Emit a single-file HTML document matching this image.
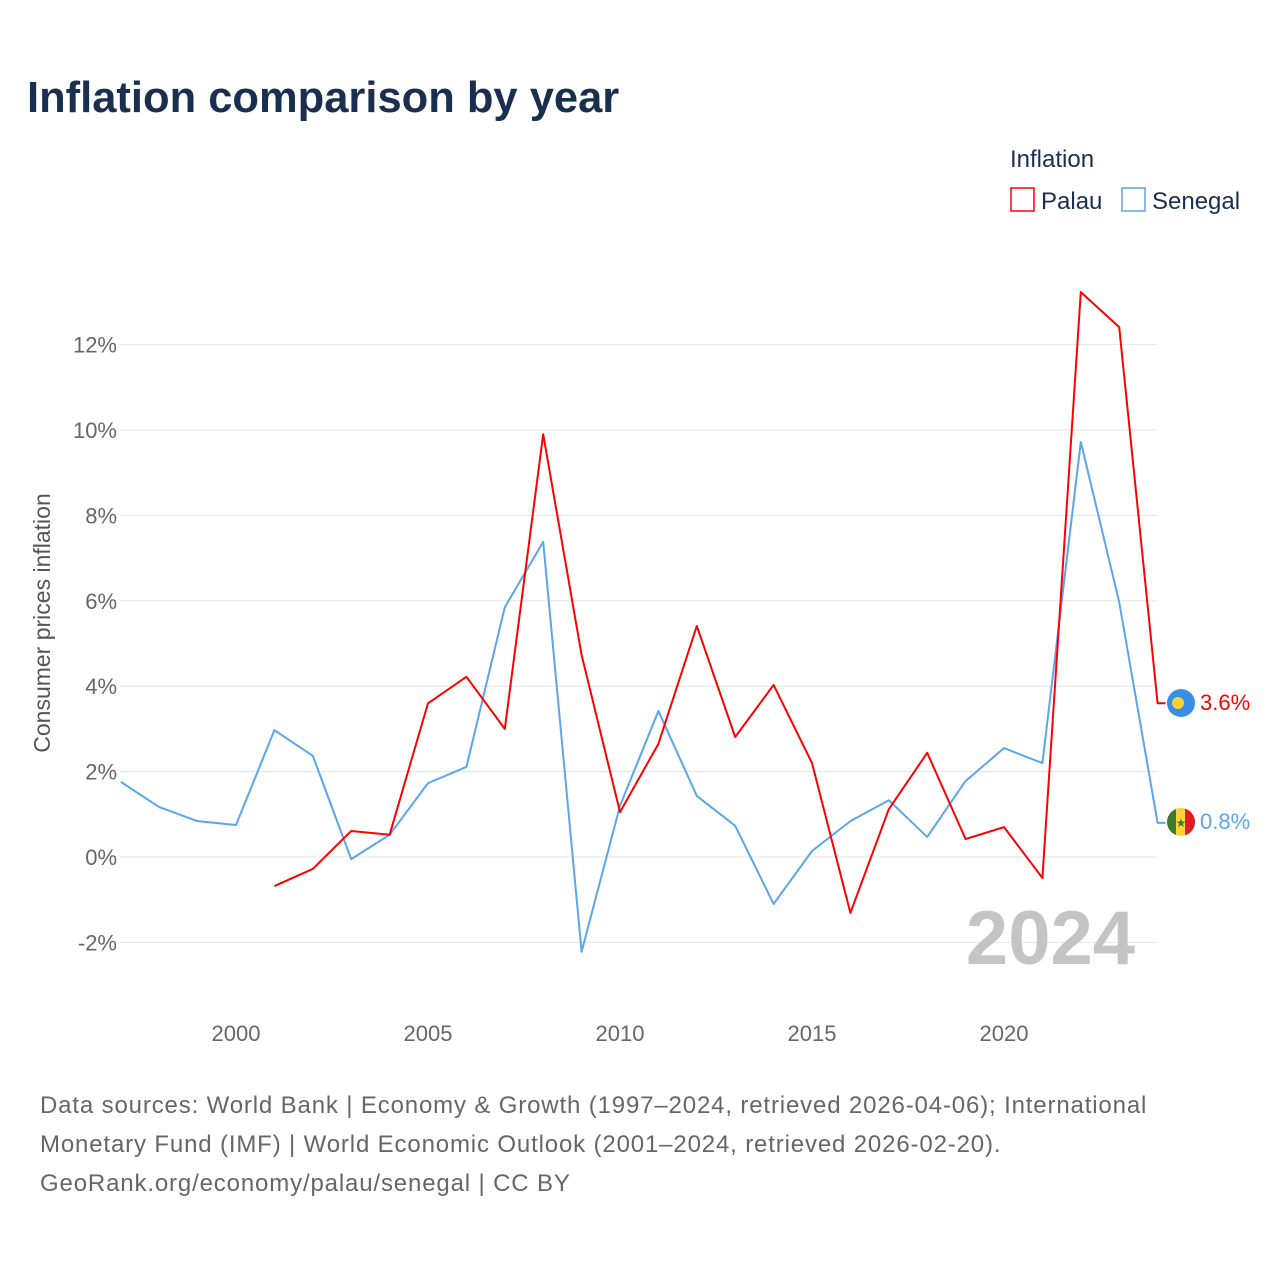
<!DOCTYPE html>
<html><head><meta charset="utf-8"><style>
body{margin:0;background:#fff;font-family:"Liberation Sans",sans-serif;}
</style></head><body>
<svg width="1280" height="1280" viewBox="0 0 1280 1280">
<text x="27" y="112" font-size="43.5" font-weight="bold" fill="#1a2e50">Inflation comparison by year</text>
<text x="1010" y="167" font-size="24" fill="#1a2e50">Inflation</text>
<g><rect x="1011" y="188" width="23" height="23" fill="none" stroke="#f00" stroke-width="1.5"/><text x="1041" y="209" font-size="24" fill="#1a2e50">Palau</text></g>
<g><rect x="1122" y="188" width="23" height="23" fill="none" stroke="#5ba6ea" stroke-width="1.5"/><text x="1152" y="209" font-size="24" fill="#1a2e50">Senegal</text></g>
<g id="grid"></g><g id="yt"></g><g id="xt"></g>
<text transform="translate(50,623) rotate(-90)" text-anchor="middle" font-size="23" fill="#555">Consumer prices inflation</text>
<text x="1135" y="964" text-anchor="end" font-size="76" font-weight="bold" fill="#c4c4c4">2024</text>
<g id="lines"></g>
<g><circle cx="1181" cy="703" r="14" fill="#3a8ee6"/><circle cx="1178" cy="703" r="6" fill="#f7d234"/></g>
<text x="1200" y="710" font-size="22" fill="#f00">3.6%</text>
<g><clipPath id="c"><circle cx="1181" cy="822" r="14"/></clipPath><g clip-path="url(#c)"><rect x="1167" y="808" width="10" height="28" fill="#3f7a31"/><rect x="1176" y="808" width="10" height="28" fill="#fbd438"/><rect x="1185" y="808" width="10" height="28" fill="#e31b23"/></g><text x="1181" y="827" text-anchor="middle" font-size="12" fill="#3f7a31">★</text></g>
<text x="1200" y="829" font-size="22" fill="#5ba6ea">0.8%</text>
<text font-size="24" fill="#666" letter-spacing="0.85"><tspan x="40" y="1113">Data sources: World Bank | Economy &amp; Growth (1997–2024, retrieved 2026-04-06); International</tspan><tspan x="40" y="1152">Monetary Fund (IMF) | World Economic Outlook (2001–2024, retrieved 2026-02-20).</tspan><tspan x="40" y="1191">GeoRank.org/economy/palau/senegal | CC BY</tspan></text>
</svg>
<script>
const yTicks=[-2,0,2,4,6,8,10,12];
const xTicks=[2000,2005,2010,2015,2020];
const senegalYears=[1997,1998,1999,2000,2001,2002,2003,2004,2005,2006,2007,2008,2009,2010,2011,2012,2013,2014,2015,2016,2017,2018,2019,2020,2021,2022,2023,2024];
const senegalVals=[1.76,1.17,0.84,0.75,2.97,2.37,-0.05,0.52,1.73,2.11,5.85,7.38,-2.22,1.2,3.42,1.43,0.73,-1.1,0.14,0.84,1.33,0.47,1.78,2.55,2.2,9.72,5.97,0.8];
const palauYears=[2001,2002,2003,2004,2005,2006,2007,2008,2009,2010,2011,2012,2013,2014,2015,2016,2017,2018,2019,2020,2021,2022,2023,2024];
const palauVals=[-0.68,-0.28,0.61,0.52,3.6,4.22,3.0,9.9,4.73,1.05,2.65,5.41,2.81,4.03,2.2,-1.31,1.12,2.44,0.42,0.7,-0.49,13.23,12.41,3.6];
const NS="http://www.w3.org/2000/svg";
const x=yr=>236+(yr-2000)*38.4;
const y=v=>857-v*42.7;
function mk(t,a,p){const e=document.createElementNS(NS,t);for(const k in a)e.setAttribute(k,a[k]);document.getElementById(p).appendChild(e);return e;}
yTicks.forEach(v=>{
 const g=mk('line',{x1:120,x2:1157,y1:y(v),y2:y(v),stroke:'#e6e6e6','stroke-width':1},'grid');
 
 
 const t=mk('text',{x:117,y:y(v)+8,'text-anchor':'end','font-size':22,fill:'#666'},'yt');
 t.textContent=v+'%';
 
 
});
xTicks.forEach(v=>{
 const t=mk('text',{x:x(v),y:1041,'text-anchor':'middle','font-size':22,fill:'#666'},'xt');
 t.textContent=v;
 
 
});
function line(ys,vs,c,n){
 let d=ys.map((yr,i)=>(i?'L':'M')+x(yr)+','+y(vs[i])).join(' ');
 d+=' L'+(x(ys[ys.length-1])+8)+','+y(vs[vs.length-1]);
 const p=mk('path',{d:d,fill:'none',stroke:c,'stroke-width':2,'stroke-linejoin':'round'},'lines');
 
 
}
line(senegalYears,senegalVals,'#5ba6ea','senegal-line');
line(palauYears,palauVals,'#f00','palau-line');
</script>
</body></html>
